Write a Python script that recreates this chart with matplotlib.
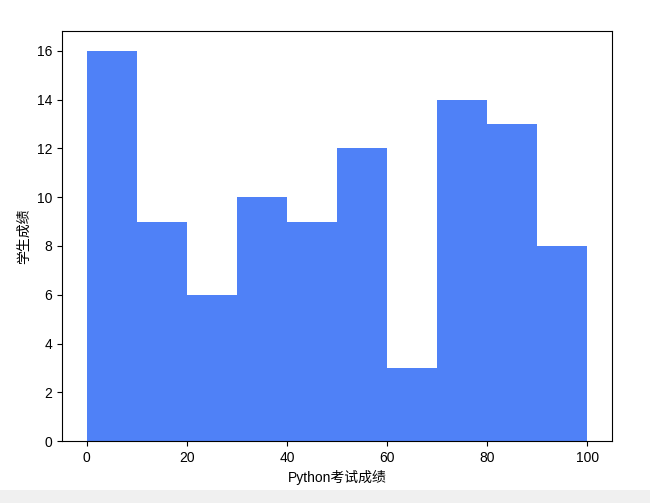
import matplotlib.pyplot as plt
from matplotlib.patches import Rectangle

plt.rcParams['font.family'] = ['Liberation Sans', 'Noto Sans CJK SC', 'DejaVu Sans']

# histogram bins and counts
bin_edges = [0, 10, 20, 30, 40, 50, 60, 70, 80, 90, 100]
counts = [16, 9, 6, 10, 9, 12, 3, 14, 13, 8]
bin_centers = [5, 15, 25, 35, 45, 55, 65, 75, 85, 95]

fig = plt.figure(figsize=(6.5, 5.03), dpi=100)
ax = fig.add_axes([0.095, 0.123, 0.847, 0.815])

ax.hist(bin_centers, bins=bin_edges, weights=counts, color='#4f81f7')

ax.set_xlabel('Python考试成绩', fontsize=10)
ax.set_ylabel('学生成绩', fontsize=10)
ax.set_yticks(range(0, 17, 2))

# grey strip at the bottom of the screenshot
fig.patches.append(Rectangle((0, 0), 1, 13 / 503, transform=fig.transFigure,
                             facecolor='#f0f0f0', edgecolor='none', zorder=-1))

plt.savefig('out.png', dpi=100)
